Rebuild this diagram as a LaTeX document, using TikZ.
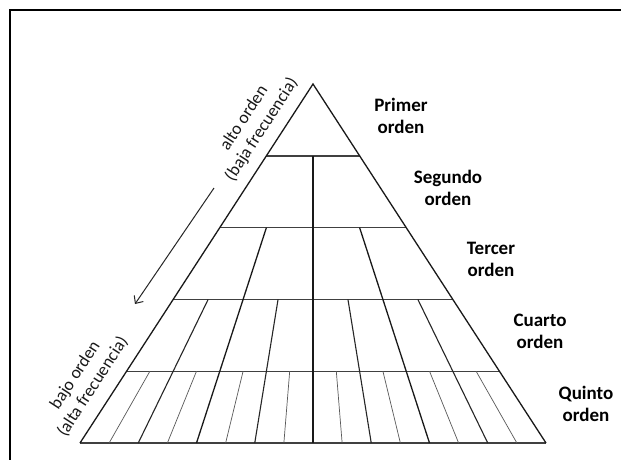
\documentclass[tikz,border=0pt]{standalone}
\usepackage{fontspec}
\setmainfont{Carlito}
\usetikzlibrary{arrows.meta,calc}
\begin{document}
\begin{tikzpicture}[x=1pt,y=-1pt,
  frame/.style={line width=2pt,black},
  edge/.style={line width=1.3pt,black!90},
  level/.style={line width=1.4pt,black!75},
  divA/.style={line width=1.3pt,black!90},
  divB/.style={line width=1.1pt,black!85},
  divC/.style={line width=0.7pt,black!65},
  order/.style={font=\fontsize{19}{22}\selectfont\bfseries,align=center,text=black},
  side/.style={font=\fontsize{17.5}{21}\selectfont,align=center,rotate=57,text=black!90},
  arr/.style={line width=1pt,black!85,-{Straight Barb[length=6pt,width=11pt]}}]
\useasboundingbox (0,0) rectangle (621,459);
\clip (0,0) rectangle (621,459);
\fill[white] (0,0) rectangle (621,459);
% frame
\draw[frame] (10,470) -- (10,10) -- (640,10);
% triangle
\coordinate (A) at (313,84);
\coordinate (BL) at (80,443);
\coordinate (BR) at (546,443);
% level boundaries
\foreach \k in {1,...,4}
  \draw[level] ($(A)!\k/5!(BL)$) -- ($(A)!\k/5!(BR)$);
\draw[level] (BL) -- (BR);
% dividers: fifth level (thin)
\foreach \j in {1,3,...,15}
  \draw[divC] ({313+(466*\j/16-233)*0.8},{84+359*0.8}) -- ({80+466*\j/16},443);
% fourth level
\foreach \j in {1,3,5,7}
  \draw[divB] ({313+(466*\j/8-233)*0.6},{84+359*0.6}) -- ({80+466*\j/8},443);
% third level
\foreach \j in {1,3}
  \draw[divA] ({313+(466*\j/4-233)*0.4},{84+359*0.4}) -- ({80+466*\j/4},443);
% second level (centre)
\draw[divA] (313,{84+359*0.2}) -- (313,443);
% triangle sides
\draw[edge,line join=miter] (BL) -- (A) -- (BR);
% labels
\node[order] (l1) at (401,116) {Primer\\orden};
\node[order] (l2) at (448,188) {Segundo\\orden};
\node[order] (l3) at (491,259) {Tercer\\orden};
\node[order] (l4) at (540,331) {Cuarto\\orden};
\node[order] (l5) at (586,404) {Quinto\\orden};
\node[side] (hi) at (253,124) {alto orden\\(baja frecuencia)};
\node[side] (lo) at (84,381) {bajo orden\\(alta frecuencia)};
% arrow
\coordinate (a1) at (214,188);
\coordinate (a2) at (135,304);
\draw[arr] (a1) -- (a2);
\end{tikzpicture}
\end{document}
